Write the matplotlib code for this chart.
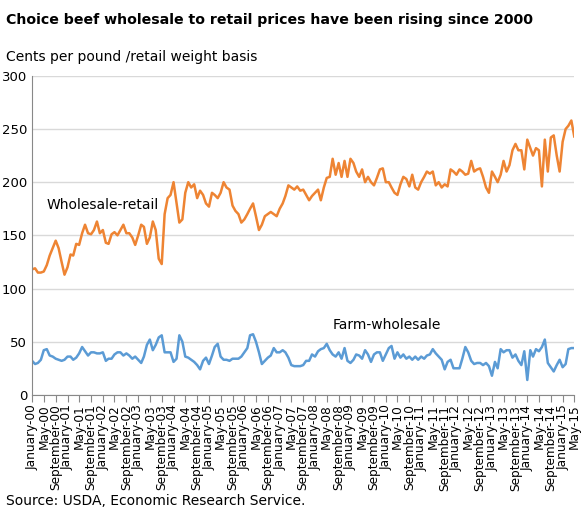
import numpy as np
import pandas as pd
import matplotlib.pyplot as plt

months = pd.date_range("2000-01-01", "2015-05-01", freq="MS")

wholesale_retail = [
    118, 119, 115, 115, 116, 122, 131, 138, 145, 138, 125, 113,
    120, 132, 131, 142, 141, 152, 160, 152, 151, 155, 163, 152,
    155, 143, 142, 151, 153, 150, 155, 160, 152, 152, 148, 141,
    150, 160, 158, 142, 148, 163, 155, 128, 123, 170, 185, 188,
    200, 180, 162, 165, 190, 200, 195, 198, 185, 192, 188, 180,
    177, 190, 188, 185, 190, 200, 195, 193, 178, 173, 170, 162,
    165, 170, 175, 180, 168, 155, 160, 168, 170, 172, 170, 168,
    175, 180, 187, 197, 195, 193, 196, 192, 193, 188, 183, 187,
    190, 193, 183, 195, 204, 205, 222, 207, 218, 205, 220, 205,
    222, 218, 210, 205, 212, 200, 205, 200, 197, 204, 212, 213,
    200, 200, 195, 190, 188, 198, 205, 203, 196, 207, 195, 193,
    200, 205, 210, 208, 210, 197, 200, 195, 198, 196, 212, 210,
    207, 212, 210, 207, 208, 220, 210, 212, 213, 205, 195, 190,
    210, 205, 200, 207, 220, 210, 216, 230, 236, 230, 230, 212,
    240, 232, 225, 232, 230, 196, 240, 210, 242, 244, 225, 210,
    238, 250, 253, 258, 243,
]
farm_wholesale = [
    32, 29, 30, 33, 42, 43, 37, 36, 34, 33, 32, 33,
    36, 36, 33, 35, 39, 45, 41, 37, 40, 40, 39, 39,
    40, 32, 34, 34, 38, 40, 40, 37, 39, 37, 34, 36,
    33, 30, 36, 47, 52, 42, 47, 54, 56, 40, 40, 40,
    31, 34, 56, 50, 36, 35, 33, 31, 28, 24, 32, 35,
    29, 37, 45, 48, 36, 33, 33, 32, 34, 34, 34, 36,
    40, 44, 56, 57, 50, 40, 29, 32, 35, 37, 44, 40,
    40, 42, 40, 35, 28, 27, 27, 27, 28, 32, 32, 38,
    36, 41, 43, 44, 48, 42, 38, 36, 40, 34, 44, 32,
    30, 33, 38, 37, 34, 42, 38, 31, 38, 40, 40, 32,
    38, 44, 46, 34, 40, 35, 38, 34, 36, 33, 36, 33,
    36, 34, 37, 38, 43, 39, 36, 33, 24, 31, 33, 25,
    25, 25, 34, 45, 40, 32, 29, 30, 30, 28, 30, 27,
    18, 31, 25, 43, 40, 42, 42, 35, 38, 32, 28, 41,
    14, 42, 36, 43, 41, 45, 52, 30, 26, 22, 28, 33,
    26, 29, 43, 44, 44,
]

fig, ax = plt.subplots(figsize=(5.83, 5.23), dpi=100)
fig.subplots_adjust(left=0.055, right=0.985, top=0.855, bottom=0.245)

ax.plot(months, wholesale_retail, color="#ee8433", lw=1.8)
ax.plot(months, farm_wholesale, color="#5b9bd5", lw=1.8)

ax.set_ylim(0, 300)
ax.set_yticks(range(0, 301, 50))
ax.set_xlim(months[0], months[-1])
ax.yaxis.grid(True, color="#d9d9d9", lw=1)
ax.set_axisbelow(True)
for s in ["top", "right"]:
    ax.spines[s].set_visible(False)
ax.spines["left"].set_color("#888888")
ax.spines["bottom"].set_color("#888888")
ax.tick_params(axis="y", length=0, labelsize=9.5)

tick_dates = months[::4]
ax.set_xticks(tick_dates)
ax.set_xticklabels([d.strftime("%B-%y") for d in tick_dates], rotation=90, fontsize=8.7)
ax.tick_params(axis="x", length=5, color="#888888", pad=2)

ax.text(months[5], 175, "Wholesale-retail", fontsize=10)
ax.text(months[102], 62, "Farm-wholesale", fontsize=10)

fig.text(0.01, 0.975, "Choice beef wholesale to retail prices have been rising since 2000",
         fontsize=10.2, fontweight="bold", va="top")
fig.text(0.01, 0.905, "Cents per pound /retail weight basis", fontsize=10, va="top")
fig.text(0.01, 0.035, "Source: USDA, Economic Research Service.", fontsize=10)

fig.savefig("out.png")
